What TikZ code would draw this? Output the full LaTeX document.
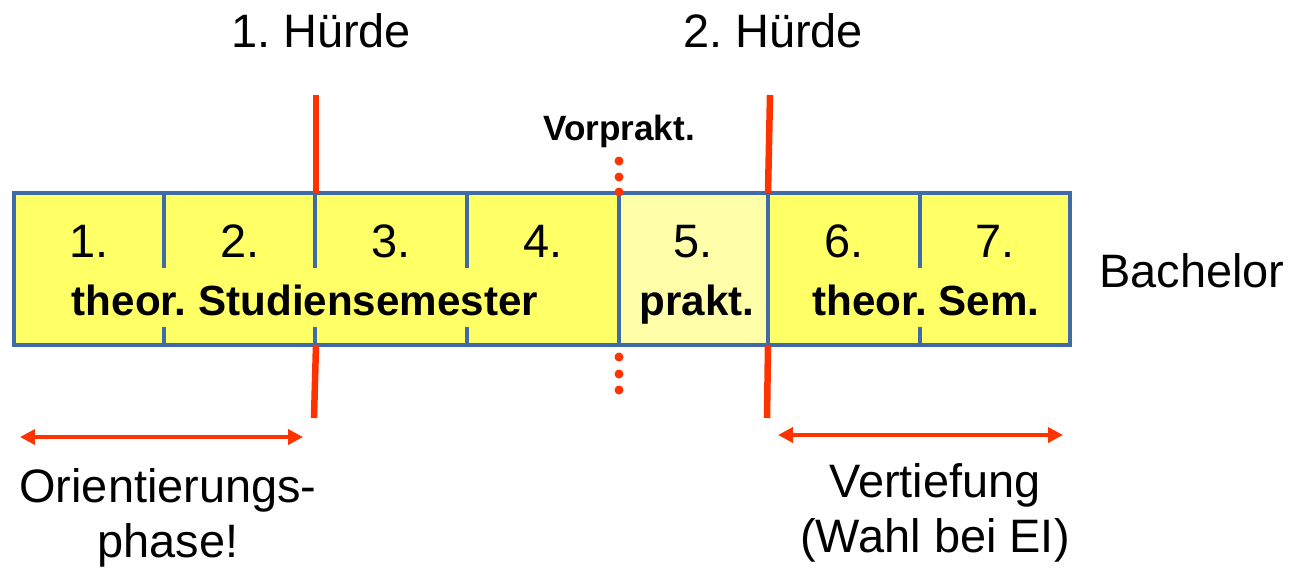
\documentclass[tikz,border=0pt]{standalone}
\usepackage{fontspec}
\setmainfont{Liberation Sans}
\usetikzlibrary{arrows.meta,positioning}
\frenchspacing

\definecolor{semyellow}{HTML}{FFFF66}
\definecolor{praktyellow}{HTML}{FFFFAA}
\definecolor{cellblue}{HTML}{3F6CA8}
\definecolor{hurdlered}{HTML}{FF3300}

\tikzset{
>={Triangle[width=3mm,length=3mm]},
cellline/.style={draw=cellblue, line width=2pt},
hurdle/.style={draw=hurdlered, line width=3.7pt},
span/.style={<->, draw=hurdlered, line width=2pt, hurdlered},
num/.style={anchor=base, inner sep=0pt, font=\fontsize{26.7}{32}\selectfont},
semtext/.style={anchor=base, inner sep=0pt, font=\fontsize{24}{29}\selectfont\bfseries},
label/.style={inner sep=0pt, align=center, font=\fontsize{26.7}{31.3}\selectfont},
}

\begin{document}
\begin{tikzpicture}[x=0.02cm, y=-0.02cm]

    \useasboundingbox (0,0) rectangle (1294,568);

    % semester strip
    \fill[semyellow] (14,193) rectangle (1070,345);
    \fill[praktyellow] (619,193) rectangle (768,345);
    \draw[cellline] (14,193) rectangle (1070,345);

    \foreach \x in {164,315,467,920} {
        \draw[cellline] (\x,193) -- (\x,268);
        \draw[cellline] (\x,327) -- (\x,345);
    }
    \draw[cellline] (619,193) -- (619,345);
    \draw[cellline] (768,193) -- (768,345);

    \foreach \i/\x in {1/89, 2/240, 3/391, 4/543, 5/693, 6/844, 7/995}
        \node[num] (n\i) at (\x,257) {\i.};

    \node[semtext] (theo1) at (305,315) {theor. Studiensemester};
    \node[semtext] (prakt) at (697,315) {prakt.};
    \node[semtext] (theo2) at (926,315) {theor. Sem.};

    \node[num] (bachelor) at (1192,287) {Bachelor};

    % hurdles
    \node[num] (h1) at (321,47) {1. Hürde};
    \node[num] (h2) at (773,47) {2. Hürde};

    \coordinate (h1top) at (316,95);
    \coordinate (h1mid) at (316,193);
    \coordinate (h1low) at (316,345);
    \coordinate (h1bot) at (314,418);
    \coordinate (h2top) at (770,95);
    \coordinate (h2mid) at (768,193);
    \coordinate (h2low) at (768,345);
    \coordinate (h2bot) at (767,418);

    \draw[hurdle] (h1top) -- (h1mid);
    \draw[hurdle] (h1low) -- (h1bot);
    \draw[hurdle] (h2top) -- (h2mid);
    \draw[hurdle] (h2low) -- (h2bot);

    % pre-practical
    \node[anchor=base, inner sep=0pt, font=\fontsize{20}{24}\selectfont\bfseries] (vorp) at (619,140) {Vorprakt.};
    \foreach \y in {161,177,192,357,374,390}
        \fill[hurdlered] (619,\y) circle (4.5);

    % phases
    \coordinate (o1) at (20,437);
    \coordinate (o2) at (303,437);
    \coordinate (v1) at (778,435);
    \coordinate (v2) at (1063,435);
    \draw[span] (o1) -- (o2);
    \draw[span] (v1) -- (v2);

    \node[label] (orient) at (168,518) {Orientierungs-\\phase!};
    \node[label] (vertief) at (935,513) {Vertiefung\\(Wahl bei EI)};

\end{tikzpicture}
\end{document}
